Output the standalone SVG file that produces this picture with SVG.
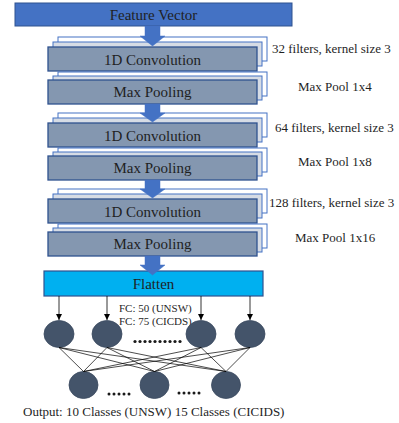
<svg xmlns="http://www.w3.org/2000/svg" width="399" height="423" viewBox="0 0 399 423">
<defs>
<style>
.t{font-family:"Liberation Serif","Times New Roman","DejaVu Serif",serif;fill:#1f1f1f}
.box{font-size:15px;text-anchor:middle}
.lbl{font-size:13px}
.front{fill:#8497B0;stroke:#2F528F;stroke-width:1.3}
.mid{fill:#D6DCE5;stroke:#4472C4;stroke-width:1}
.back{fill:#FFFFFF;stroke:#4472C4;stroke-width:1}
.arr{fill:#4472C4;stroke:#4472C4;stroke-width:0.5}
.neu{fill:#44546A;stroke:#3B4A60;stroke-width:0.8}
.ln{stroke:#000;stroke-width:0.7;fill:none}
.dn{stroke:#000;stroke-width:0.8;fill:none}
</style>
<marker id="ah" markerWidth="8" markerHeight="8" refX="6" refY="3" orient="auto" markerUnits="userSpaceOnUse">
<path d="M0,0 L6,3 L0,6 Z" fill="#000"/>
</marker>
</defs>
<rect width="399" height="423" fill="#fff"/>

<g id="feature-vector">
<rect x="15" y="3" width="277" height="23" fill="#4472C4" stroke="#2F528F" stroke-width="1"/>
<text class="t box" x="153.5" y="20" font-family="Liberation Serif, serif">Feature Vector</text>
</g>

<g id="conv1">
<rect class="back" x="58" y="37" width="209" height="24"/>
<rect class="mid" x="53" y="42" width="209" height="24"/>
<rect class="front" x="48" y="47" width="209" height="24"/>
<text class="t box" x="152.5" y="64.5">1D Convolution</text>
</g>
<g id="pool1">
<rect class="back" x="58" y="72" width="209" height="24"/>
<rect class="mid" x="53" y="76" width="209" height="24"/>
<rect class="front" x="48" y="80" width="209" height="24"/>
<text class="t box" x="152.5" y="97">Max Pooling</text>
</g>

<g id="conv2">
<rect class="back" x="58" y="113" width="209" height="24"/>
<rect class="mid" x="53" y="118" width="209" height="24"/>
<rect class="front" x="48" y="123" width="209" height="24"/>
<text class="t box" x="152.5" y="140.5">1D Convolution</text>
</g>
<g id="pool2">
<rect class="back" x="58" y="148" width="209" height="24"/>
<rect class="mid" x="53" y="152" width="209" height="24"/>
<rect class="front" x="48" y="156" width="209" height="24"/>
<text class="t box" x="152.5" y="173">Max Pooling</text>
</g>

<g id="conv3">
<rect class="back" x="58" y="189" width="209" height="24"/>
<rect class="mid" x="53" y="194" width="209" height="24"/>
<rect class="front" x="48" y="199" width="209" height="24"/>
<text class="t box" x="152.5" y="216.5">1D Convolution</text>
</g>
<g id="pool3">
<rect class="back" x="58" y="224" width="209" height="24"/>
<rect class="mid" x="53" y="228" width="209" height="24"/>
<rect class="front" x="48" y="232" width="209" height="24"/>
<text class="t box" x="152.5" y="249">Max Pooling</text>
</g>

<g id="flatten">
<rect x="44" y="271" width="219" height="25" fill="#00B0F0" stroke="#2F528F" stroke-width="1.2"/>
<text class="t box" x="153.5" y="289">Flatten</text>
</g>

<g id="annotations">
<text class="t lbl" x="272" y="53">32 filters, kernel size 3</text>
<text class="t lbl" x="298" y="91">Max Pool 1x4</text>
<text class="t lbl" x="275" y="132">64 filters, kernel size 3</text>
<text class="t lbl" x="298" y="166">Max Pool 1x8</text>
<text class="t lbl" x="269" y="207">128 filters, kernel size 3</text>
<text class="t lbl" x="295" y="242">Max Pool 1x16</text>
<text class="t" x="119" y="312" font-size="11">FC: 50 (UNSW)</text>
<text class="t" x="119" y="325" font-size="11">FC: 75 (CICDS)</text>
<text class="t lbl" x="23" y="416">Output: 10 Classes (UNSW) 15 Classes (CICIDS)</text>
</g>

<g id="dense-layer">
<ellipse class="neu" cx="59" cy="334" rx="15" ry="13.5"/>
<ellipse class="neu" cx="107" cy="334" rx="15" ry="13.5"/>
<ellipse class="neu" cx="201" cy="334" rx="15" ry="13.5"/>
<ellipse class="neu" cx="250" cy="334" rx="15" ry="13.5"/>
<g fill="#1a1a1a">
<circle cx="135" cy="341.5" r="1.6"/><circle cx="140" cy="341.5" r="1.6"/><circle cx="145" cy="341.5" r="1.6"/><circle cx="150" cy="341.5" r="1.6"/><circle cx="155" cy="341.5" r="1.6"/><circle cx="160" cy="341.5" r="1.6"/><circle cx="165" cy="341.5" r="1.6"/><circle cx="170" cy="341.5" r="1.6"/><circle cx="175" cy="341.5" r="1.6"/><circle cx="180" cy="341.5" r="1.6"/>
</g>
</g>

<g id="output-layer">
<ellipse class="neu" cx="83.5" cy="385" rx="14.5" ry="13.5"/>
<ellipse class="neu" cx="154.5" cy="385" rx="14.5" ry="13.5"/>
<ellipse class="neu" cx="226" cy="385" rx="14.5" ry="13.5"/>
<g fill="#1a1a1a">
<circle cx="109" cy="394" r="1.5"/><circle cx="114" cy="394" r="1.5"/><circle cx="119" cy="394" r="1.5"/><circle cx="124" cy="394" r="1.5"/><circle cx="129" cy="394" r="1.5"/>
<circle cx="179" cy="393" r="1.5"/><circle cx="184" cy="393" r="1.5"/><circle cx="189" cy="393" r="1.5"/><circle cx="194" cy="393" r="1.5"/><circle cx="199" cy="393" r="1.5"/>
</g>
</g>

<g id="connectors">
<path class="arr" d="M145,26 H160 V36 H165 L152.5,46 L140,36 H145 Z"/>
<path class="arr" d="M145,104 H160 V113 H165 L152.5,122 L140,113 H145 Z"/>
<path class="arr" d="M145,180 H160 V189 H165 L152.5,198 L140,189 H145 Z"/>
<path class="arr" d="M145,256 H160 V265 H165 L152.5,275 L140,265 H145 Z"/>
<line class="dn" x1="59" y1="296" x2="59" y2="320" marker-end="url(#ah)"/>
<line class="dn" x1="107" y1="296" x2="107" y2="320" marker-end="url(#ah)"/>
<line class="dn" x1="201" y1="296" x2="201" y2="320" marker-end="url(#ah)"/>
<line class="dn" x1="250" y1="296" x2="250" y2="320" marker-end="url(#ah)"/>
<g class="ln">
<line x1="59" y1="347.5" x2="83.5" y2="371.5"/>
<line x1="59" y1="347.5" x2="154.5" y2="371.5"/>
<line x1="59" y1="347.5" x2="226" y2="371.5"/>
<line x1="107" y1="347.5" x2="83.5" y2="371.5"/>
<line x1="107" y1="347.5" x2="154.5" y2="371.5"/>
<line x1="107" y1="347.5" x2="226" y2="371.5"/>
<line x1="201" y1="347.5" x2="83.5" y2="371.5"/>
<line x1="201" y1="347.5" x2="154.5" y2="371.5"/>
<line x1="201" y1="347.5" x2="226" y2="371.5"/>
<line x1="250" y1="347.5" x2="83.5" y2="371.5"/>
<line x1="250" y1="347.5" x2="154.5" y2="371.5"/>
<line x1="250" y1="347.5" x2="226" y2="371.5"/>
</g>
</g>
</svg>
